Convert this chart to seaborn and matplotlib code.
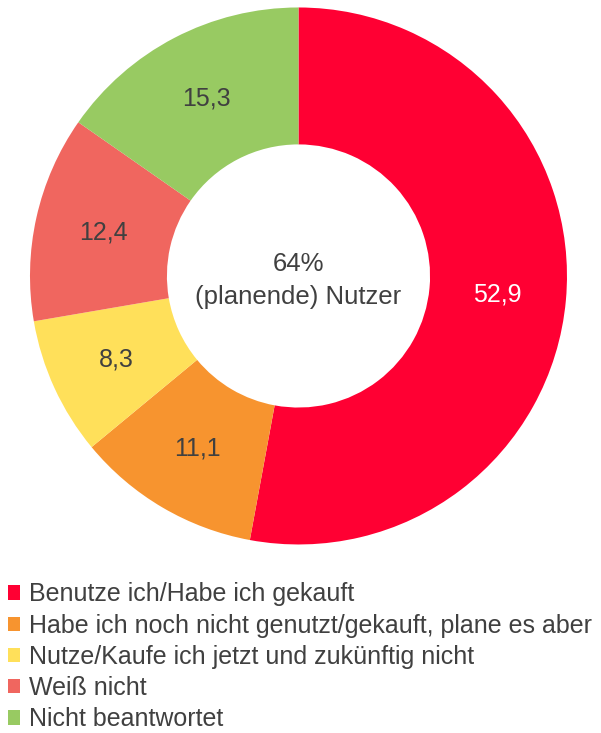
import matplotlib
matplotlib.use('Agg')
import matplotlib.pyplot as plt
import seaborn as sns
import numpy as np
from matplotlib.patches import Patch

# Data
labels = ['Benutze ich/Habe ich gekauft',
          'Habe ich noch nicht genutzt/gekauft, plane es aber',
          'Nutze/Kaufe ich jetzt und zukünftig nicht',
          'Weiß nicht',
          'Nicht beantwortet']
values = [52.9, 11.1, 8.3, 12.4, 15.3]
value_labels = ['52,9', '11,1', '8,3', '12,4', '15,3']
colors = ['#FF0033', '#F7942F', '#FFE05A', '#F0665F', '#98CA62']
center_text = '64%\n(planende) Nutzer'

sns.set_style('white')
plt.rcParams['font.family'] = ['Liberation Sans', 'DejaVu Sans']
text_color = '#404040'

fig = plt.figure(figsize=(6.01, 7.33), dpi=100)
ax = fig.add_axes([0.0499, 0.2572, 0.8935, 0.7326])

wedges, _ = ax.pie(values, colors=colors, startangle=90, counterclock=False,
                   radius=1.0, wedgeprops=dict(width=0.51, edgecolor='none'))

# value labels in the ring
theta = 90.0
total = sum(values)
for v, lab in zip(values, value_labels):
    span = 360.0 * v / total
    mid = np.deg2rad(theta - span / 2)
    theta -= span
    r = 0.745
    c = 'white' if lab == '52,9' else text_color
    ax.text(r * np.cos(mid), r * np.sin(mid), lab, ha='center', va='center',
            fontsize=18, color=c)

ax.text(0, -0.017, center_text, ha='center', va='center', fontsize=18.5,
        color=text_color, linespacing=1.45)
ax.set_xlim(-1, 1)
ax.set_ylim(-1, 1)
ax.set_aspect('equal')
ax.axis('off')

handles = [Patch(facecolor=c, edgecolor='none') for c in colors]
fig.legend(handles, labels, loc='upper left', bbox_to_anchor=(0.013, 0.2055),
           frameon=False, fontsize=18, labelcolor=text_color,
           handlelength=0.5, handleheight=0.5, handletextpad=0.36,
           labelspacing=0.29, borderpad=0, borderaxespad=0)

fig.savefig('out.png', dpi=100)
